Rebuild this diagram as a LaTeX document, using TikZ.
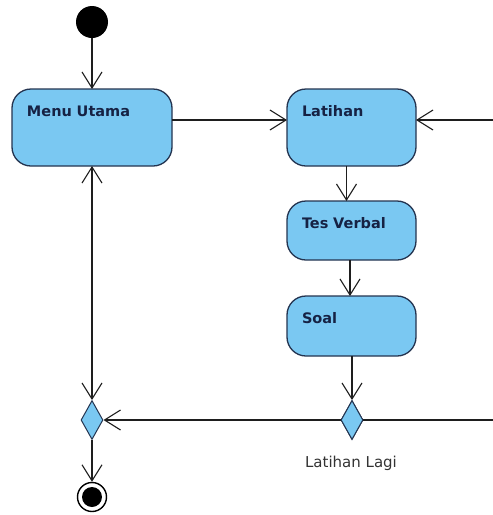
\documentclass[tikz,border=0pt]{standalone}
\usepackage{fontspec}
\setmainfont{DejaVu Sans}
\usetikzlibrary{arrows.meta,shapes.geometric}
\definecolor{actfill}{RGB}{122,200,242}
\definecolor{actdraw}{RGB}{36,52,80}
\definecolor{acttext}{RGB}{22,34,68}
\definecolor{lineclr}{RGB}{30,30,30}
\tikzset{
  act/.style={draw=actdraw, fill=actfill, line width=1.3pt, rounded corners=19pt,
    rectangle, inner sep=0pt, outer sep=0pt, inner xsep=15pt, align=left, anchor=north west,
    text=acttext, font=\bfseries\fontsize{14.5}{16}\selectfont, text height=27pt},
  dec/.style={draw=actdraw, fill=actfill, line width=1pt, diamond, inner sep=0pt,
    minimum width=22pt, minimum height=39pt},
  flow/.style={draw=lineclr, line width=1.1pt, -{Straight Barb[length=16pt,width=20pt,line width=1.1pt]}},
  flowboth/.style={draw=lineclr, line width=1.1pt, {Straight Barb[length=16pt,width=20pt,line width=1.1pt]}-{Straight Barb[length=16pt,width=20pt,line width=1.1pt]}},
  guard/.style={font=\fontsize{15}{17}\selectfont, text=black!80, anchor=base}
}
\begin{document}
\begin{tikzpicture}[x=1pt,y=-1pt]
\useasboundingbox (0,0) rectangle (493,515);
\node[circle, fill=black, minimum size=32pt, inner sep=0pt] (start) at (92,22) {};
\node[act, text width=130pt, text depth=50pt] (menu) at (12,89) {Menu Utama};
\node[act, text width=99pt, text depth=50pt] (lat) at (287,89) {Latihan};
\node[act, text width=99pt, text depth=32pt] (tes) at (287,201) {Tes Verbal};
\node[act, text width=99pt, text depth=33pt] (soal) at (287,296) {Soal};
\node[dec] (ldia) at (92,420) {};
\node[dec] (rdia) at (352,420) {};
\node[guard] (lbl) at (351,467) {Latihan Lagi};
\node[circle, draw=black, line width=1.4pt, minimum size=29pt, inner sep=0pt] (final) at (92,497) {};
\node[circle, fill=black, minimum size=20pt, inner sep=0pt] at (final.center) {};
\coordinate (r1) at (493,120);
\coordinate (r2) at (493,420);
\draw[flow] (start) -- (start |- menu.north);
\draw[flow] (menu.east |- r1) -- (lat.west |- r1);
\draw[flow] (r1) -- (lat.east |- r1);
\draw[flow] ([xshift=-5pt]lat.south) -- ([xshift=-5pt]tes.north);
\draw[flow] ([xshift=-1.5pt]tes.south) -- ([xshift=-1.5pt]soal.north);
\draw[flow] (rdia.north |- soal.south) -- (rdia.north);
\draw[flow] (r2) -- (ldia.east);
\draw[flowboth] (ldia.north |- menu.south) -- (ldia.north);
\draw[flow] (ldia.south) -- (final.north);
\node[dec] at (rdia) {};
\end{tikzpicture}
\end{document}
